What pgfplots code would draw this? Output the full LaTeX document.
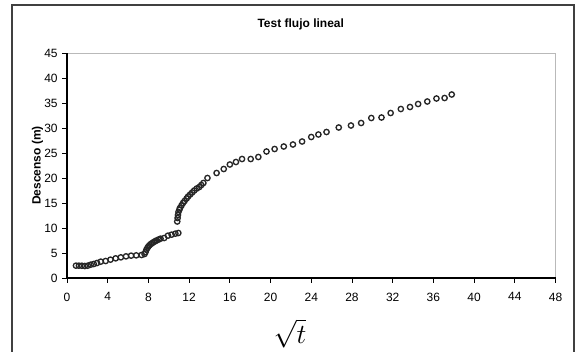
\documentclass[border=0pt]{standalone}
\usepackage{pgfplots}
\pgfplotsset{compat=1.18}
\usepackage{fontspec}
\setmainfont{Liberation Sans}
\begin{document}
\begin{tikzpicture}
\useasboundingbox (-50.25pt,-54.75pt) rectangle (386.25pt,208.5pt);
\draw[black!75, line width=1pt] (-41.25pt,-70pt) -- (-41.25pt,204.75pt) -- (380.25pt,204.75pt) -- (380.25pt,-70pt);
\node[font=\bfseries\small] at (175.3pt,190.5pt) {Test flujo lineal};
\begin{axis}[
  at={(0pt,0pt)}, anchor=origin,
  scale only axis, width=366.4pt, height=168.75pt,
  xmin=0, xmax=48, ymin=0, ymax=45,
  xtick={0,4,...,48}, ytick={0,5,...,45},
  xtick pos=bottom, ytick pos=left,
  tick align=outside, major tick length=3.5pt,
  tick style={black, line width=0.6pt},
  axis line style={gray!55, line width=0.6pt},
  ticklabel style={font=\small},
  /pgf/number format/assume math mode=true,
  xticklabel style={yshift=-4pt},
  ylabel={\bfseries Descenso (m)},
  ylabel style={font=\small, yshift=-6pt},
  xlabel={$\sqrt{t}$},
  xlabel style={font=\huge, inner sep=0pt, xshift=-16pt, yshift=-10pt},
  clip=false,
]
\draw[black, line width=0.8pt] (rel axis cs:0,1) -- (rel axis cs:0,0) -- (rel axis cs:1,0);
\addplot[only marks, mark=o, mark size=2pt, mark options={line width=1pt, black!85}] coordinates {
(0.88,2.47) (1.17,2.47) (1.46,2.45) (1.75,2.40) (2.04,2.47) (2.33,2.67) (2.63,2.80) (2.95,3.00)
(3.32,3.27) (3.80,3.40) (4.27,3.67) (4.78,3.93) (5.29,4.13) (5.80,4.33) (6.30,4.47) (6.80,4.53)
(7.33,4.60) (7.62,4.80) (7.72,5.20) (7.80,5.67) (7.90,6.00) (7.99,6.30) (8.10,6.55) (8.24,6.80) (8.38,7.00) (8.53,7.20)
(8.68,7.38) (8.83,7.53) (9.00,7.70) (9.19,7.87) (9.55,8.00) (9.92,8.47) (10.28,8.67) (10.65,8.87)
(10.94,9.00) (10.83,11.3) (10.87,12.0) (10.90,12.6) (10.95,13.2) (11.05,13.7) (11.1,14.0) (11.25,14.5)
(11.4,15.0) (11.55,15.4) (11.75,15.9) (11.9,16.3) (12.1,16.7) (12.3,17.1) (12.5,17.5) (12.75,17.9) (13.0,18.2)
(13.2,18.6) (13.4,19.0) (13.8,20.0) (14.7,21.0) (15.4,21.8) (16.0,22.7) (16.6,23.2) (17.2,23.8)
(18.05,23.8) (18.8,24.2) (19.6,25.3) (20.4,25.8) (21.3,26.3) (22.2,26.7) (23.1,27.3) (24.0,28.2)
(24.7,28.7) (25.5,29.2) (26.7,30.1) (27.9,30.5) (28.9,31.0) (29.9,32.0) (30.9,32.1) (31.8,33.0)
(32.8,33.8) (33.7,34.2) (34.5,34.8) (35.4,35.3) (36.3,35.9) (37.1,36.0) (37.8,36.7)
};
\end{axis}
\end{tikzpicture}
\end{document}
